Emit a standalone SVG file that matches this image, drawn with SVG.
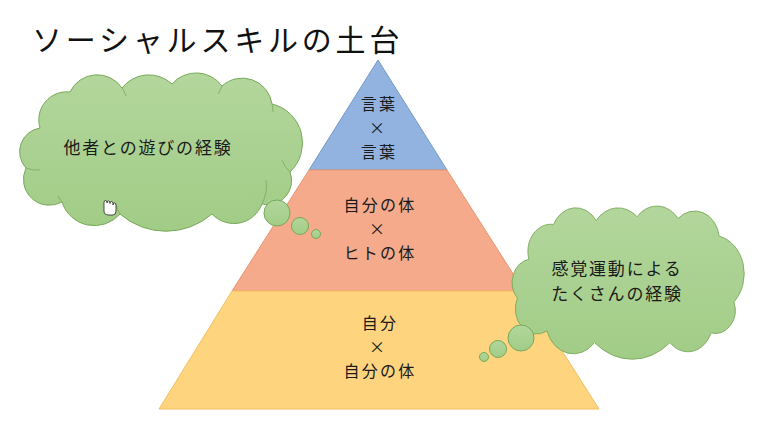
<svg xmlns="http://www.w3.org/2000/svg" width="760" height="429" viewBox="0 0 760 429">
  <defs>
    <linearGradient id="cloudGrad" x1="0" y1="0" x2="0" y2="1">
      <stop offset="0" stop-color="#b3d69c"/>
      <stop offset="1" stop-color="#a1cc86"/>
    </linearGradient>
    <path id="cloudShape" d="M40,128 A28,28 0 0 1 70,92 A30,30 0 0 1 122,88 A34,34 0 0 1 172,84 A32,32 0 0 1 222,86 A30,30 0 0 1 272,104 A40,40 0 0 1 290,172 A24,24 0 0 1 262,204 A30,30 0 0 1 212,214 A70,70 0 0 1 120,214 A34,34 0 0 1 62,202 A26,26 0 0 1 26,168 A24,24 0 0 1 40,128 Z"/>
  </defs>
  <style>
    .t { font-family: "Noto Sans CJK JP", "Noto Sans CJK SC", sans-serif; fill: #1a1a1a; text-anchor: middle; }
    .lbl { font-size: 16px; letter-spacing: 2.2px; }
    .cl { font-size: 17px; letter-spacing: 1.8px; }
    .cloud { fill: url(#cloudGrad); stroke: #78a95a; stroke-width: 1; }
    .inner { fill: none; stroke: #78a95a; stroke-width: 0.8; }
  </style>
  <rect width="760" height="429" fill="#ffffff"/>

  <g id="title">
    <text x="32" y="51" style="font-family: 'Noto Sans CJK JP', sans-serif; font-size: 30px; letter-spacing: 3.8px; fill: #111;">ソーシャルスキルの土台</text>
  </g>

  <g id="pyramid">
    <g id="level-top">
      <polygon points="378,60 309,170 447,170" fill="#92b3df" stroke="#7499c8" stroke-width="1"/>
      <text class="t lbl"><tspan x="379" y="110">言葉</tspan><tspan x="378" y="134">×</tspan><tspan x="379" y="158">言葉</tspan></text>
    </g>
    <g id="level-middle">
      <polygon points="309,170 447,170 524,291 232,291" fill="#f4aa8b" stroke="#e8956f" stroke-width="1"/>
      <text class="t lbl"><tspan x="380" y="211">自分の体</tspan><tspan x="378" y="235">×</tspan><tspan x="380" y="259">ヒトの体</tspan></text>
    </g>
    <g id="level-bottom">
      <polygon points="232,291 524,291 599,409 159,409" fill="#fed47e" stroke="#f2bf5f" stroke-width="1"/>
      <text class="t lbl"><tspan x="380" y="329">自分</tspan><tspan x="378" y="353">×</tspan><tspan x="380" y="377">自分の体</tspan></text>
    </g>
  </g>

  <g id="cloud-left">
    <use href="#cloudShape" class="cloud"/>
    <path class="inner" d="M62,202 A30,30 0 0 1 58,196"/>
    <path class="inner" d="M120,214 A40,40 0 0 1 116,205"/>
    <path class="inner" d="M262,204 A40,40 0 0 0 266,180"/>
    <path class="inner" d="M290,172 A30,30 0 0 1 282,160"/>
    <path class="inner" d="M272,104 A30,30 0 0 1 273,112"/>
    <path class="inner" d="M222,86 A30,30 0 0 1 218,94"/>
    <path class="inner" d="M122,88 A30,30 0 0 1 126,96"/>
    <path class="inner" d="M26,168 A30,30 0 0 0 40,170"/>
    <text class="t cl" x="148" y="154">他者との遊びの経験</text>
    <path d="M104,203 l0,8 q0,4 5,4 l4,0 q3,0 3,-4 l0,-6 q0,-2 -1.5,-2 q-1.5,0 -1.5,2 l0,-1.5 q0,-2 -1.5,-2 q-1.5,0 -1.5,2 l0,-0.5 q0,-2 -1.5,-2 q-1.5,0 -1.5,2 l0,-0.5 q0,-2 -1.5,-2 q-1.5,0 -1.5,2 z" fill="#ffffff" stroke="#222" stroke-width="0.8"/>
  </g>
  <g id="bubbles-left">
    <circle cx="277" cy="213" r="13" class="cloud"/>
    <circle cx="300" cy="226" r="8.5" class="cloud"/>
    <circle cx="316" cy="234" r="4.5" class="cloud"/>
  </g>

  <g id="cloud-right">
    <use href="#cloudShape" class="cloud" transform="translate(496.1,135.4) scale(0.82,0.968)" style="vector-effect: non-scaling-stroke;"/>
    <text class="t cl"><tspan x="617" y="275">感覚運動による</tspan><tspan x="617" y="300">たくさんの経験</tspan></text>
  </g>
  <g id="bubbles-right">
    <circle cx="521" cy="338" r="13" class="cloud"/>
    <circle cx="498" cy="349" r="8.5" class="cloud"/>
    <circle cx="484" cy="357" r="4.5" class="cloud"/>
  </g>
</svg>
